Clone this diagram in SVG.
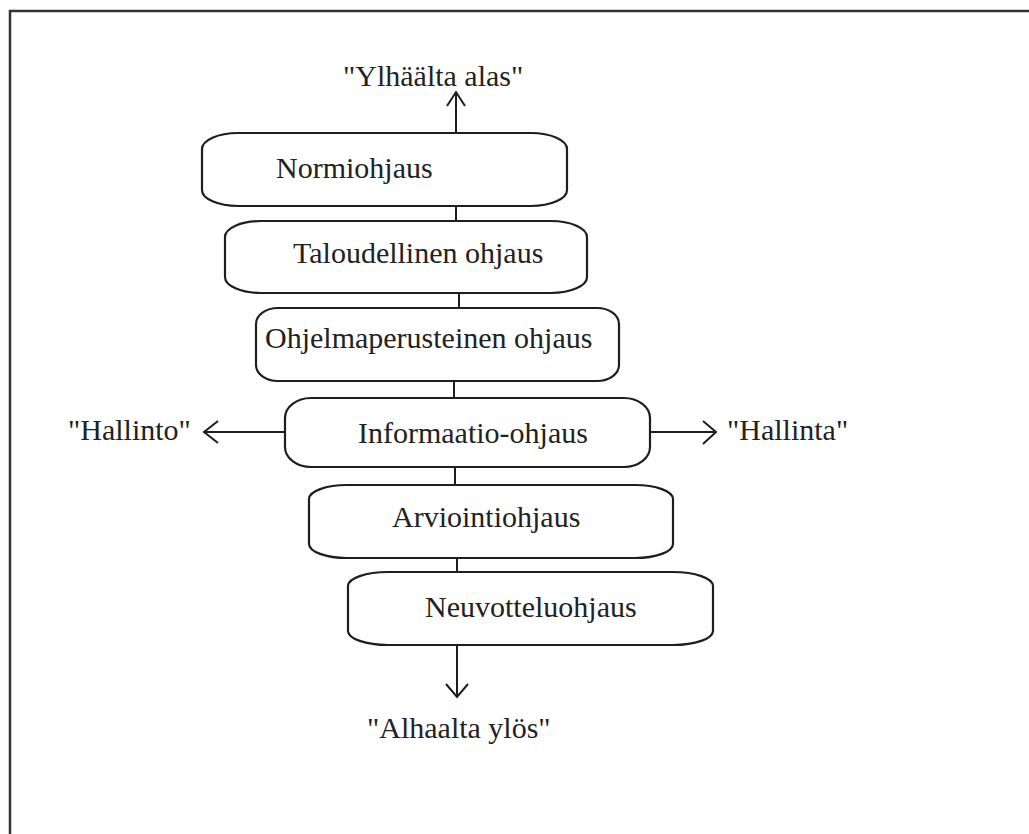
<svg xmlns="http://www.w3.org/2000/svg" width="1029" height="834" viewBox="0 0 1029 834">
<style>
.box{fill:#fff;stroke:#1e1e1e;stroke-width:2.2}
.lbl{font-family:"Liberation Serif","Times New Roman",serif;font-size:30px;fill:#222}
.ln{stroke:#1e1e1e;stroke-width:2;fill:none}
.frame{stroke:#333;stroke-width:2.5;fill:none}
</style>
<rect x="0" y="0" width="1029" height="834" fill="#fff"/>
<path class="frame" d="M10,834 V11 H1029"/>
<g id="connectors">
<path class="ln" d="M456,133 V92 M447,106 L456,92 L465,106"/>
<path class="ln" d="M456,206 V221"/>
<path class="ln" d="M459,293 V308"/>
<path class="ln" d="M454,381 V398"/>
<path class="ln" d="M455,467 V485"/>
<path class="ln" d="M457,558 V572"/>
<path class="ln" d="M457,645 V697 M446,684 L457,697 L468,684"/>
<path class="ln" d="M285,432 H204 M218,421 L204,432 L218,443"/>
<path class="ln" d="M650,432 H716 M703,421 L716,432 L703,444"/>
</g>
<g id="top-label"><text class="lbl" x="343" y="86">"Ylhäälta alas"</text></g>
<g id="bottom-label"><text class="lbl" x="367" y="738">"Alhaalta ylös"</text></g>
<g id="left-label"><text class="lbl" x="68" y="440">"Hallinto"</text></g>
<g id="right-label"><text class="lbl" x="727" y="440">"Hallinta"</text></g>
<g id="n1"><rect class="box" x="202" y="133" width="365" height="73" rx="36" ry="16"/><text class="lbl" x="276" y="178">Normiohjaus</text></g>
<g id="n2"><rect class="box" x="225" y="221" width="362" height="72" rx="36" ry="16"/><text class="lbl" x="293" y="263">Taloudellinen ohjaus</text></g>
<g id="n3"><rect class="box" x="256" y="308" width="363" height="73" rx="22" ry="16"/><text class="lbl" x="265" y="348">Ohjelmaperusteinen ohjaus</text></g>
<g id="n4"><rect class="box" x="285" y="398" width="365" height="69" rx="26" ry="20"/><text class="lbl" x="358" y="443">Informaatio-ohjaus</text></g>
<g id="n5"><rect class="box" x="309" y="485" width="364" height="73" rx="38" ry="14"/><text class="lbl" x="392" y="527">Arviointiohjaus</text></g>
<g id="n6"><rect class="box" x="348" y="572" width="365" height="73" rx="40" ry="14"/><text class="lbl" x="425" y="617">Neuvotteluohjaus</text></g>
</svg>
